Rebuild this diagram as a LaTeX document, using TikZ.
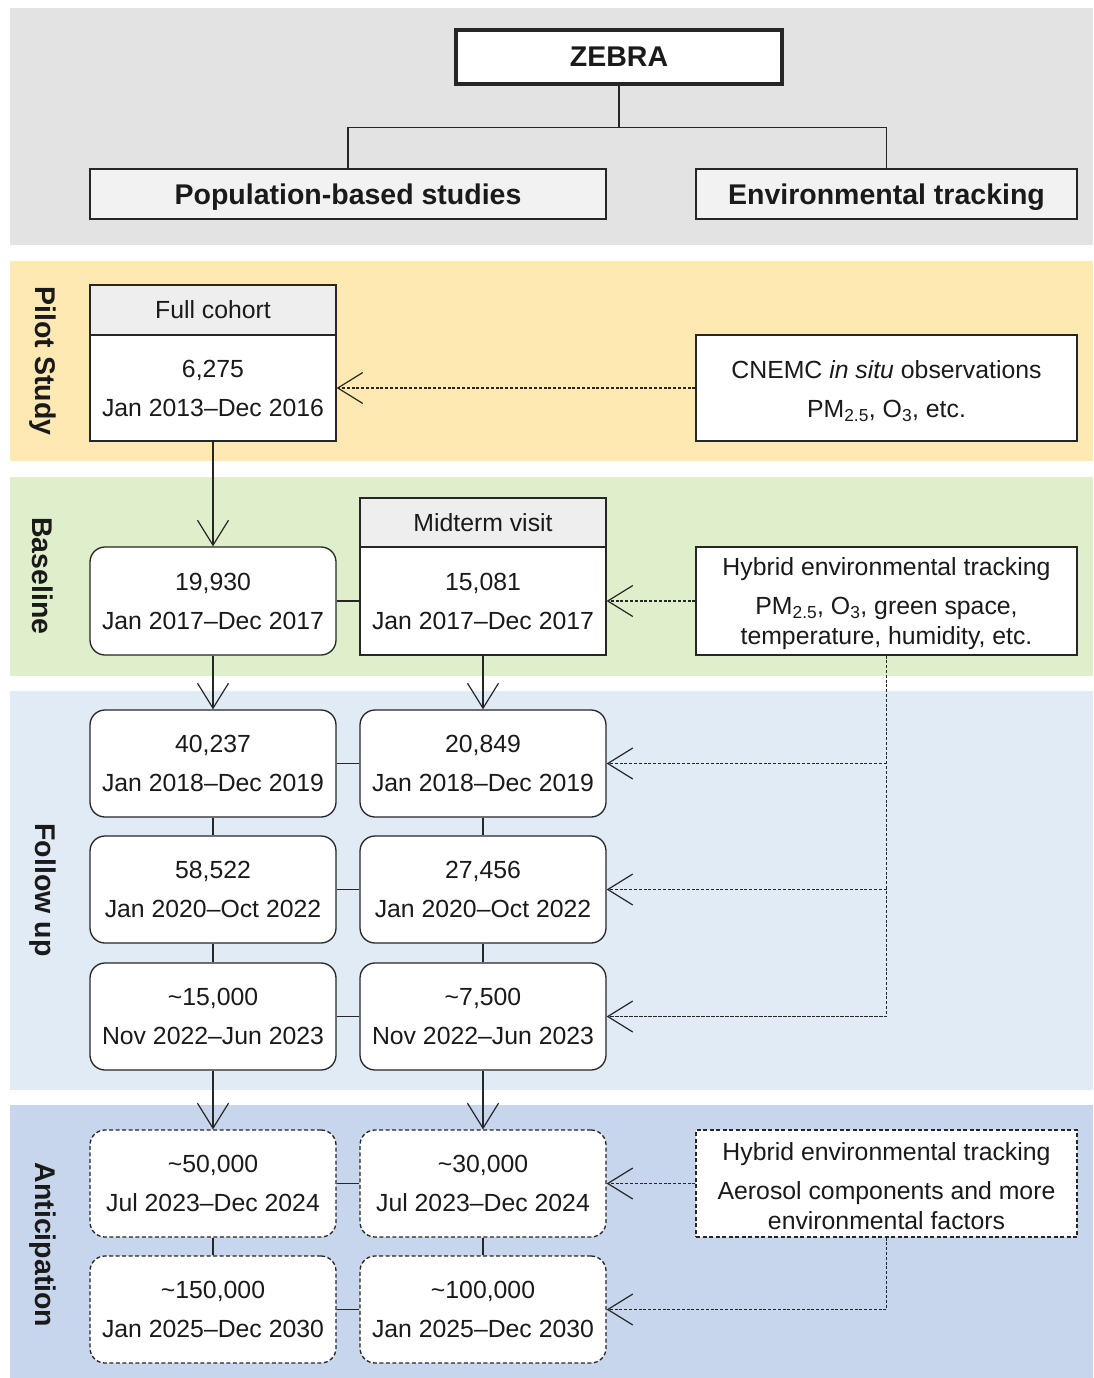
\documentclass[tikz,border=0pt]{standalone}
\usepackage{fontspec}
\setmainfont{Liberation Sans}
\usetikzlibrary{arrows.meta}
\definecolor{txt}{HTML}{1A1A1A}
\definecolor{bandtop}{HTML}{E3E3E3}
\definecolor{bandpilot}{HTML}{FEE9B3}
\definecolor{bandbase}{HTML}{DFEECB}
\definecolor{bandfollow}{HTML}{E1EBF6}
\definecolor{bandanti}{HTML}{C7D6EC}
\definecolor{headfill}{HTML}{EEEEEE}
\definecolor{titlefill}{HTML}{F2F2F2}
\definecolor{edge}{HTML}{262626}
\newcommand{\regfont}{\fontsize{24.8}{39}\selectfont}
\newcommand{\tightfont}{\fontsize{24.8}{30}\selectfont}
\newcommand{\boldfont}{\fontsize{28.5}{34}\selectfont\bfseries}
\newcommand{\topstrut}{\rule{0pt}{24pt}}
\begin{document}
\begin{tikzpicture}[x=1pt,y=-1pt,
  box/.style={draw=edge, line width=1.3pt, fill=white, minimum width=246pt,
    minimum height=107pt, inner sep=0pt, align=center, text=txt, font=\regfont},
  headbox/.style={box, fill=headfill, minimum height=50pt},
  rbox/.style={box, rounded corners=15pt},
  dbox/.style={rbox, dash pattern=on 4pt off 2.5pt},
  envbox/.style={box, minimum width=381pt},
  titlebox/.style={draw=edge, line width=1.3pt, fill=titlefill, inner sep=0pt,
    minimum height=50pt, text=txt, font=\boldfont, text height=26pt, text depth=6pt},
  sidelabel/.style={rotate=-90, text=txt, font=\boldfont, inner sep=0pt},
  conn/.style={draw=edge, line width=1.2pt},
  tip/.style={conn, -{Straight Barb[length=25pt,width=31pt,line width=1.2pt]}},
  dtip/.style={tip, dash pattern=on 3pt off 1.8pt},
  dline/.style={conn, dash pattern=on 3pt off 1.8pt}
]
\useasboundingbox (0,0) rectangle (1093,1378);
\fill[white] (0,0) rectangle (1093,1378);
% bands
\fill[bandtop] (10,8) rectangle (1093,245);
\fill[bandpilot] (10,261) rectangle (1093,461);
\fill[bandbase] (10,477) rectangle (1093,676);
\fill[bandfollow] (10,691) rectangle (1093,1090);
\fill[bandanti] (10,1105) rectangle (1093,1378);

% side labels
\node[sidelabel] (lpilot) at (43,361) {Pilot Study};
\node[sidelabel] (lbase) at (43,576) {Baseline};
\node[sidelabel] (lfollow) at (43,890) {Follow up};
\node[sidelabel] (lanti) at (43,1245) {Anticipation};

% top
\node[titlebox, fill=white, line width=3.5pt, minimum width=326pt, minimum height=54pt] (zebra) at (619,57) {ZEBRA};
\node[titlebox, minimum width=516pt] (pop) at (348,194) {Population-based studies};
\node[titlebox, minimum width=381pt] (env) at (886.5,194) {Environmental tracking};
\draw[conn] (zebra.south) -- ++(0,42) coordinate (zj) -| (pop.north);
\draw[conn] (zj) -| (env.north);

% pilot
\node[headbox] (fch) at (213,310) {Full cohort};
\node[box, minimum height=106pt] (fcb) at (213,388) {6,275\\Jan 2013–Dec 2016};
\node[envbox, minimum height=106pt] (cnemc) at (886.5,388) {\topstrut CNEMC \textit{in situ} observations\\PM\textsubscript{2.5}, O\textsubscript{3}, etc.};
\draw[dtip] (cnemc.west) -- (fcb.east);

% baseline
\node[rbox, minimum height=108pt] (b1) at (213,601) {19,930\\Jan 2017–Dec 2017};
\node[headbox, minimum height=49pt] (mvh) at (483,522.5) {Midterm visit};
\node[box, minimum height=108pt] (mvb) at (483,601) {15,081\\Jan 2017–Dec 2017};
\node[envbox, minimum height=108pt, font=\tightfont] (hyb1) at (886.5,601) {\topstrut Hybrid environmental tracking\\[9pt]PM\textsubscript{2.5}, O\textsubscript{3}, green space,\\temperature, humidity, etc.};
\draw[tip] (fcb.south) -- (b1.north);
\draw[conn] (b1.east) -- (mvb.west);
\draw[dtip] (hyb1.west) -- (mvb.east);

% follow up
\node[rbox] (f1l) at (213,763.5) {40,237\\Jan 2018–Dec 2019};
\node[rbox] (f1r) at (483,763.5) {20,849\\Jan 2018–Dec 2019};
\node[rbox] (f2l) at (213,889.5) {58,522\\Jan 2020–Oct 2022};
\node[rbox] (f2r) at (483,889.5) {27,456\\Jan 2020–Oct 2022};
\node[rbox] (f3l) at (213,1016.5) {\textasciitilde15,000\\Nov 2022–Jun 2023};
\node[rbox] (f3r) at (483,1016.5) {\textasciitilde7,500\\Nov 2022–Jun 2023};
\draw[tip] (b1.south) -- (f1l.north);
\draw[tip] (mvb.south) -- (f1r.north);
\draw[conn] (f1l.east) -- (f1r.west);
\draw[conn] (f2l.east) -- (f2r.west);
\draw[conn] (f3l.east) -- (f3r.west);
\draw[conn] (f1l.south) -- (f2l.north);
\draw[conn] (f2l.south) -- (f3l.north);
\draw[conn] (f1r.south) -- (f2r.north);
\draw[conn] (f2r.south) -- (f3r.north);
\draw[dline] (hyb1.south) |- (f3r.east);
\draw[dtip] (hyb1.south |- f1r.east) -- (f1r.east);
\draw[dtip] (hyb1.south |- f2r.east) -- (f2r.east);
\draw[dtip] (hyb1.south |- f3r.east) -- (f3r.east);

% anticipation
\node[dbox] (a1l) at (213,1183.5) {\textasciitilde50,000\\Jul 2023–Dec 2024};
\node[dbox] (a1r) at (483,1183.5) {\textasciitilde30,000\\Jul 2023–Dec 2024};
\node[dbox] (a2l) at (213,1309.5) {\textasciitilde150,000\\Jan 2025–Dec 2030};
\node[dbox] (a2r) at (483,1309.5) {\textasciitilde100,000\\Jan 2025–Dec 2030};
\node[envbox, dash pattern=on 4pt off 2.5pt, font=\tightfont] (hyb2) at (886.5,1183.5) {\topstrut Hybrid environmental tracking\\[9pt]Aerosol components and more\\environmental factors};
\draw[tip] (f3l.south) -- (a1l.north);
\draw[tip] (f3r.south) -- (a1r.north);
\draw[conn] (a1l.east) -- (a1r.west);
\draw[conn] (a2l.east) -- (a2r.west);
\draw[conn] (a1l.south) -- (a2l.north);
\draw[conn] (a1r.south) -- (a2r.north);
\draw[dtip] (hyb2.west) -- (a1r.east);
\draw[dtip] (hyb2.south) |- (a2r.east);
\end{tikzpicture}
\end{document}
